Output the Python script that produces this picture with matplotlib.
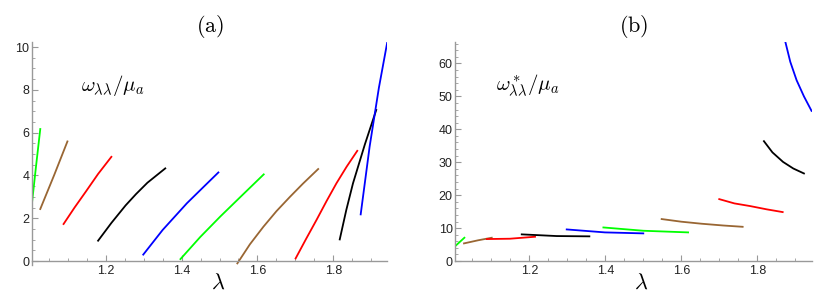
import matplotlib.pyplot as plt

plt.rcParams['mathtext.fontset'] = 'cm'
plt.rcParams['font.family'] = ['Liberation Sans', 'DejaVu Sans']

colors = ['#00ff00', '#996633', '#ff0000', '#000000', '#0000ff',
          '#00ff00', '#996633', '#ff0000', '#000000', '#0000ff']

# panel (a): omega_ll / mu_a
lam_a = [
    [1.0058, 1.0163, 1.0276],
    [1.0276, 1.0643, 1.0992],
    [1.089, 1.118, 1.1475, 1.18, 1.215],
    [1.180, 1.215, 1.2525, 1.28, 1.31, 1.357],
    [1.299, 1.35, 1.414, 1.46, 1.497],
    [1.397, 1.449, 1.502, 1.56, 1.6165],
    [1.547, 1.58, 1.6155, 1.65, 1.6856, 1.72, 1.760],
    [1.7005, 1.728, 1.7556, 1.782, 1.808, 1.835, 1.863],
    [1.8168, 1.834, 1.8517, 1.883, 1.913],
    [1.872, 1.8955, 1.92, 1.942],
]
w_a = [
    [2.72, 4.41, 6.17],
    [2.43, 4.02, 5.59],
    [1.73, 2.50, 3.24, 4.07, 4.87],
    [0.95, 1.78, 2.60, 3.13, 3.66, 4.33],
    [0.30, 1.45, 2.70, 3.50, 4.14],
    [0.09, 1.12, 2.08, 3.08, 4.05],
    [-0.11, 0.78, 1.60, 2.33, 3.00, 3.62, 4.30],
    [0.12, 1.03, 1.92, 2.80, 3.63, 4.41, 5.15],
    [1.01, 2.38, 3.63, 5.45, 7.06],
    [2.18, 5.34, 8.10, 10.22],
]

# panel (b): omega*_ll / mu_a
lam_b = [
    [1.005, 1.029],
    [1.028, 1.065, 1.101],
    [1.088, 1.149, 1.215],
    [1.180, 1.272, 1.358],
    [1.2984, 1.399, 1.500],
    [1.395, 1.500, 1.618],
    [1.5484, 1.60, 1.6537, 1.71, 1.7616],
    [1.700, 1.74, 1.781, 1.825, 1.867],
    [1.8176, 1.84, 1.868, 1.895, 1.923],
    [1.872, 1.887, 1.9037, 1.923, 1.943],
]
w_b = [
    [4.55, 7.08],
    [5.36, 6.30, 7.08],
    [6.68, 6.78, 7.38],
    [8.10, 7.59, 7.50],
    [9.60, 8.70, 8.40],
    [10.2, 9.20, 8.70],
    [12.75, 11.95, 11.33, 10.8, 10.4],
    [18.8, 17.5, 16.7, 15.7, 14.87],
    [36.4, 33.0, 30.1, 28.1, 26.6],
    [67.5, 60.5, 54.9, 50.0, 45.6],
]

fig = plt.figure(figsize=(8.31, 2.98), dpi=100)
ax1 = fig.add_axes([0.0385, 0.1097, 0.4275, 0.7503])
ax2 = fig.add_axes([0.548, 0.124, 0.4295, 0.736])


def style(ax, xlim, ylim, ymaj, ymin):
    ax.set_xlim(*xlim)
    ax.set_ylim(*ylim)
    for s in ['top', 'right']:
        ax.spines[s].set_visible(False)
    ax.spines['bottom'].set_position(('data', 0))
    for s in ['left', 'bottom']:
        ax.spines[s].set_color('#999999')
        ax.spines[s].set_linewidth(1.0)
    ax.set_xticks([1.2, 1.4, 1.6, 1.8])
    ax.set_xticks([1.05 + 0.05 * i for i in range(18)], minor=True)
    ax.set_yticks(ymaj)
    ax.set_yticks(ymin, minor=True)
    ax.tick_params(which='both', direction='in', color='#999999',
                   labelsize=9, labelcolor='#222222')
    ax.tick_params(which='major', length=4, width=0.8)
    ax.tick_params(which='minor', length=2.5, width=0.6)
    ax.tick_params(axis='y', pad=2)
    ax.tick_params(axis='x', pad=3)


style(ax1, (1.0058, 1.942), (-0.2, 10.25), [0, 2, 4, 6, 8, 10],
      [0.5 * i for i in range(21)])
style(ax2, (1.0053, 1.945), (0, 66.6), [0, 10, 20, 30, 40, 50, 60],
      [2 * i for i in range(34)])

for xs, ys, c in zip(lam_a, w_a, colors):
    ax1.plot(xs, ys, color=c, lw=1.3, clip_on=True)
for xs, ys, c in zip(lam_b, w_b, colors):
    ax2.plot(xs, ys, color=c, lw=1.3, clip_on=True)

ax1.set_title(r'$\mathrm{(a)}$', fontsize=16, pad=7)
ax2.set_title(r'$\mathrm{(b)}$', fontsize=16, pad=7)

ax1.text(0.138, 0.806, r'$\omega_{\lambda\lambda}/\mu_a$', transform=ax1.transAxes,
         fontsize=15, va='center', ha='left')
ax2.text(0.114, 0.80, r'$\omega^*_{\lambda\lambda}/\mu_a$', transform=ax2.transAxes,
         fontsize=15, va='center', ha='left')

fig.text(218 / 831, 1 - 283 / 298, r'$\lambda$', fontsize=16, ha='center', va='center')
fig.text(641 / 831, 1 - 283 / 298, r'$\lambda$', fontsize=16, ha='center', va='center')

fig.savefig('out.png', dpi=100)
